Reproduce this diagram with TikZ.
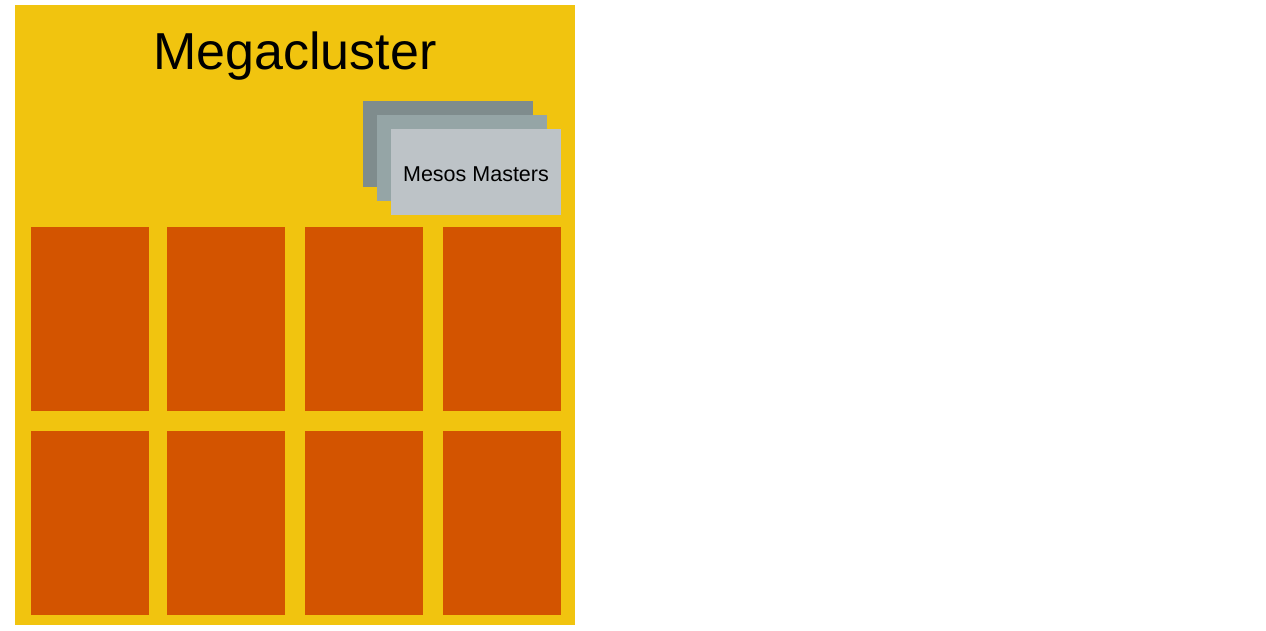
\documentclass[tikz,border=0pt]{standalone}
\usepackage{fontspec}
\setmainfont{Liberation Sans}
\definecolor{cyellow}{HTML}{F1C40F}
\definecolor{corange}{HTML}{D35400}
\definecolor{cgray1}{HTML}{7F8C8D}
\definecolor{cgray2}{HTML}{95A5A6}
\definecolor{cgray3}{HTML}{BDC3C7}
\tikzset{
  box/.style={draw=none, inner sep=0pt, outer sep=0pt, anchor=north west},
  agent/.style={box, fill=corange, minimum width=118pt, minimum height=184pt},
  master/.style={box, minimum width=170pt, minimum height=85.5pt},
}
\begin{document}
\begin{tikzpicture}[x=1pt, y=-1pt]
\useasboundingbox (0,0) rectangle (1266,630);
\fill[white] (0,0) rectangle (1266,630);
\node[box, fill=cyellow, minimum width=560pt, minimum height=620pt] (cluster) at (15,5) {};
\node[anchor=base, inner sep=0pt, font=\fontsize{52}{60}\selectfont] (title) at (295,69) {Megacluster};
\node[master, fill=cgray1] (m1) at (363,101) {};
\node[master, fill=cgray2] (m2) at (377,115) {};
\node[master, fill=cgray3] (m3) at (391,129) {};
\node[anchor=base, inner sep=0pt, font=\fontsize{21.5}{26}\selectfont] (m3text) at (m3.center |- 0,181) {Mesos Masters};
\node[agent] (a1) at (31,227) {};
\node[agent] (a2) at (167,227) {};
\node[agent] (a3) at (305,227) {};
\node[agent] (a4) at (443,227) {};
\node[agent] (a5) at (31,431) {};
\node[agent] (a6) at (167,431) {};
\node[agent] (a7) at (305,431) {};
\node[agent] (a8) at (443,431) {};
\end{tikzpicture}
\end{document}
